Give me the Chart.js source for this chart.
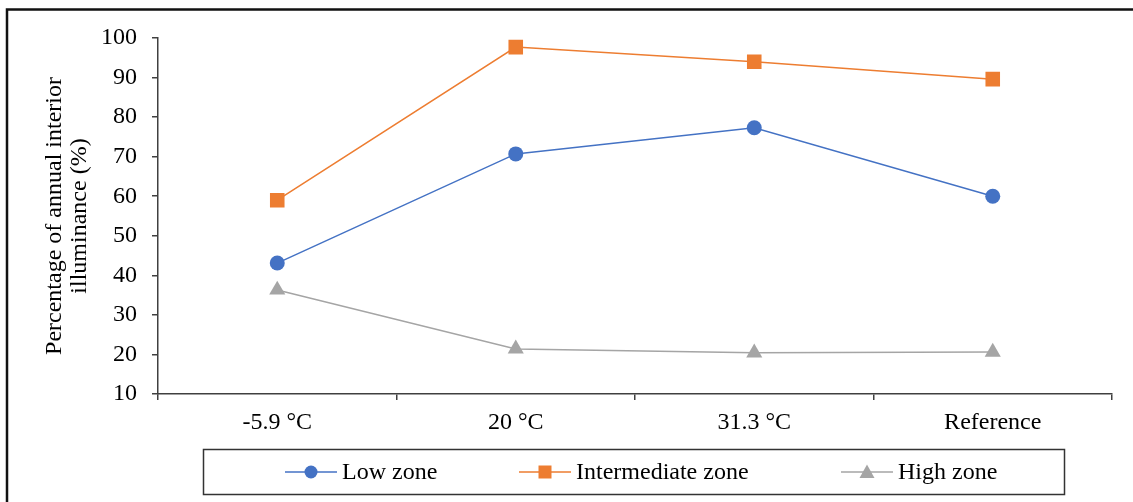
<!DOCTYPE html>
<html lang="en">
<head>
    <meta charset="UTF-8">
    <title>Annual interior illuminance</title>
    <script src="https://cdn.jsdelivr.net/npm/chart.js"></script>
    <style>
        html, body { margin: 0; padding: 0; background: #fff; }
        #wrap { width: 1133px; height: 502px; }
    </style>
</head>
<body>
<div id="wrap"><canvas id="grafico" width="1133" height="502"></canvas></div>

<script>
    // datos
    const categorias = ['-5.9 °C', '20 °C', '31.3 °C', 'Reference'];
    const zonaBaja = [43.1, 70.7, 77.3, 60.0];
    const zonaIntermedia = [59.0, 97.7, 94.0, 89.6];
    const zonaAlta = [36.3, 21.4, 20.4, 20.6];
    const nombres = ['Low zone', 'Intermediate zone', 'High zone'];
    const tituloY = ['Percentage of annual interior', 'illuminance (%)'];

    const fuente = "'Liberation Serif', 'Times New Roman', serif";
    const ejeColor = '#404040';

    // marco del gráfico y leyenda con recuadro (al estilo Excel)
    const decoracion = {
        id: 'decoracion',
        beforeDraw(chart) {
            const ctx = chart.ctx;
            ctx.save();
            ctx.strokeStyle = '#111';
            ctx.lineWidth = 2.5;
            ctx.beginPath();
            ctx.moveTo(7, 510);
            ctx.lineTo(7, 9.5);
            ctx.lineTo(1140, 9.5);
            ctx.stroke();
            ctx.restore();
        },
        afterDraw(chart) {
            const ctx = chart.ctx;
            ctx.save();
            ctx.strokeStyle = '#333';
            ctx.lineWidth = 1.5;
            ctx.strokeRect(203.5, 449.5, 861, 45);
            const inicio = [285, 519, 841];
            const cy = 472;
            ctx.font = '24px ' + fuente;
            ctx.textBaseline = 'middle';
            ctx.fillStyle = '#000';
            chart.data.datasets.forEach((ds, i) => {
                const x0 = inicio[i];
                ctx.strokeStyle = ds.borderColor;
                ctx.lineWidth = 1.5;
                ctx.beginPath();
                ctx.moveTo(x0, cy);
                ctx.lineTo(x0 + 52, cy);
                ctx.stroke();
                const cx = x0 + 26;
                ctx.fillStyle = ds.backgroundColor;
                ctx.beginPath();
                if (ds.pointStyle === 'circle') {
                    ctx.arc(cx, cy, 6.5, 0, Math.PI * 2);
                } else if (ds.pointStyle === 'rect') {
                    ctx.rect(cx - 6.5, cy - 6.5, 13, 13);
                } else {
                    ctx.moveTo(cx, cy - 7.5);
                    ctx.lineTo(cx + 7.5, cy + 6);
                    ctx.lineTo(cx - 7.5, cy + 6);
                    ctx.closePath();
                }
                ctx.fill();
                ctx.fillStyle = '#000';
                ctx.fillText(ds.label, x0 + 57, cy + 1);
            });
            ctx.restore();
        }
    };

    const ctx = document.getElementById('grafico').getContext('2d');
    new Chart(ctx, {
        type: 'line',
        data: {
            labels: categorias,
            datasets: [
                {
                    label: nombres[0],
                    data: zonaBaja,
                    borderColor: '#4472C4',
                    backgroundColor: '#4472C4',
                    pointStyle: 'circle',
                    pointRadius: 7.5,
                    borderWidth: 1.5,
                    pointBorderWidth: 0
                },
                {
                    label: nombres[1],
                    data: zonaIntermedia,
                    borderColor: '#ED7D31',
                    backgroundColor: '#ED7D31',
                    pointStyle: 'rect',
                    pointRadius: 10.3,
                    borderWidth: 1.5,
                    pointBorderWidth: 0
                },
                {
                    label: nombres[2],
                    data: zonaAlta,
                    borderColor: '#A5A5A5',
                    backgroundColor: '#A5A5A5',
                    pointStyle: 'triangle',
                    pointRadius: 9.3,
                    borderWidth: 1.5,
                    pointBorderWidth: 0
                }
            ]
        },
        options: {
            responsive: false,
            animation: false,
            layout: { padding: { left: 0, right: 21, top: 38, bottom: 58 } },
            plugins: {
                legend: { display: false },
                tooltip: { enabled: false }
            },
            scales: {
                x: {
                    offset: true,
                    grid: {
                        offset: true,
                        drawOnChartArea: false,
                        drawTicks: true,
                        tickLength: 6,
                        color: ejeColor,
                        lineWidth: 1.5
                    },
                    border: { color: ejeColor, width: 1.5 },
                    ticks: {
                        color: '#000',
                        padding: 8,
                        maxRotation: 0,
                        font: { family: fuente, size: 24 }
                    },
                    afterFit(scale) { scale.height = 50; }
                },
                y: {
                    min: 10,
                    max: 100,
                    grid: {
                        drawOnChartArea: false,
                        drawTicks: true,
                        tickLength: 6,
                        color: ejeColor,
                        lineWidth: 1.5
                    },
                    border: { color: ejeColor, width: 1.5 },
                    ticks: {
                        stepSize: 10,
                        color: '#000',
                        padding: 15,
                        font: { family: fuente, size: 24 }
                    },
                    title: {
                        display: true,
                        text: tituloY,
                        color: '#000',
                        padding: { top: 42, bottom: 0 },
                        font: { family: fuente, size: 24, lineHeight: 1.05 }
                    },
                    afterFit(scale) { scale.width = 158; }
                }
            }
        },
        plugins: [decoracion]
    });
</script>
</body>
</html>
